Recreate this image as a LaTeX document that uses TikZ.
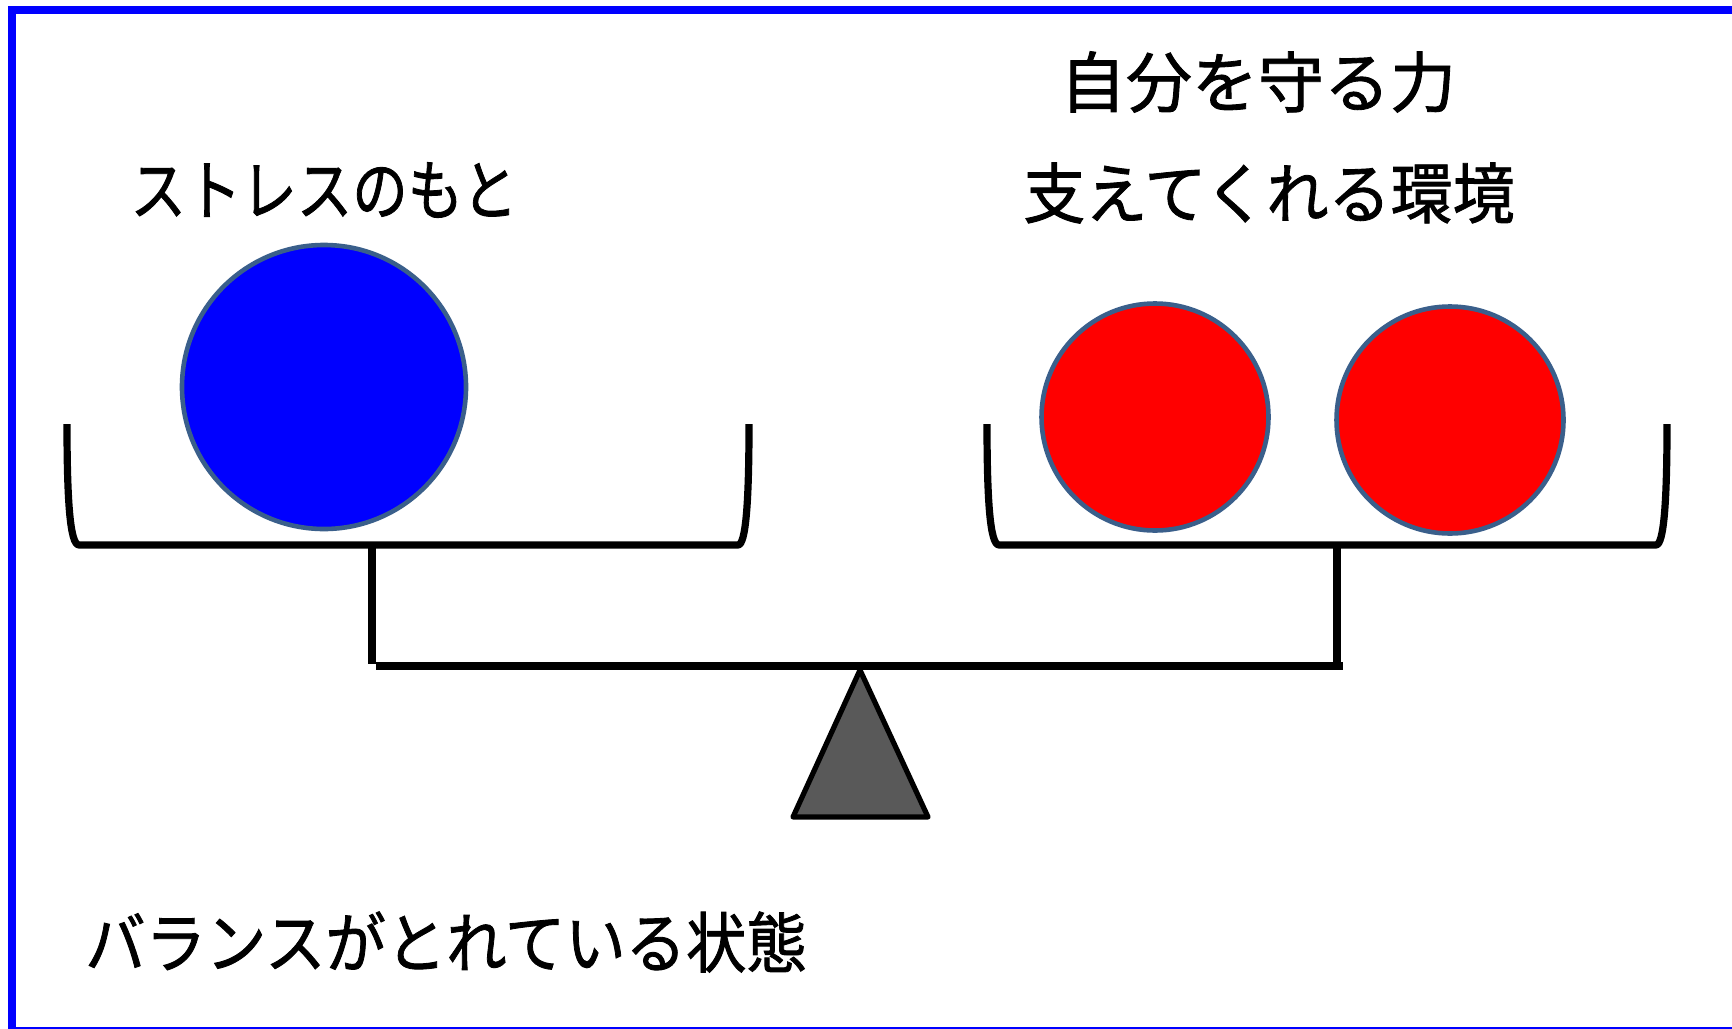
\documentclass[tikz,border=0pt]{standalone}
\usepackage{fontspec}
\usepackage{graphicx}
\setmainfont{Noto Sans CJK JP}[FakeBold=1.3]
\definecolor{frameblue}{HTML}{0000FF}
\definecolor{ballblue}{HTML}{0000FF}
\definecolor{ballred}{HTML}{FF0000}
\definecolor{ballrim}{HTML}{3A5F8B}
\definecolor{fulcrumgray}{HTML}{595959}
\tikzset{
  frame/.style={draw=frameblue, line width=4.2pt},
  panline/.style={draw=black, line width=3.6pt, line join=round},
  barline/.style={draw=black, line width=3.6pt},
  ball/.style={circle, draw=ballrim, line width=2.3pt, inner sep=0pt},
  label/.style={inner sep=0pt, font=\fontsize{33pt}{40pt}\selectfont},
  fulcrum/.style={draw=black, fill=fulcrumgray, line width=2.6pt, line join=round}
}
\begin{document}
\begin{tikzpicture}[x=0.5pt, y=-0.5pt]
\useasboundingbox (0,0) rectangle (1732,1028);
\fill[white] (0,0) rectangle (1732,1028);
\draw[frame] (12,10) rectangle (1750,1031);

% balls
\node[ball, fill=ballblue, minimum size=142pt] (stress) at (324,387) {};
\node[ball, fill=ballred, minimum size=113.5pt] (power) at (1155,417) {};
\node[ball, fill=ballred, minimum size=113.5pt] (support) at (1450,420) {};

% pans
\draw[panline] (67,424) .. controls (67,500) and (70,545) .. (79,545) -- (738,545) .. controls (746,545) and (749,500) .. (749,424);
\draw[panline] (987,424) .. controls (987,500) and (990,545) .. (999,545) -- (1656,545) .. controls (1664,545) and (1667,500) .. (1667,424);

% stems and beam
\coordinate (lstemtop) at (372,547);
\coordinate (lstembot) at (372,664);
\coordinate (rstemtop) at (1337,547);
\coordinate (rstembot) at (1337,669);
\coordinate (beamL) at (376,666);
\coordinate (beamR) at (1343,666);
\draw[barline] (lstemtop) -- (lstembot);
\draw[barline] (rstemtop) -- (rstembot);
\draw[barline] (beamL) -- (beamR);

% fulcrum
\draw[fulcrum] (860,670) -- (928,817) -- (793,817) -- cycle;

% labels
\node[label] (t1) at (324,190) {\scalebox{0.84}[1]{ストレスのもと}};
\node[label] (t2) at (1258,82) {自分を守る力};
\node[label] (t3) at (1269,193) {\scalebox{0.94}[1]{支えてくれる環境}};
\node[label] (t4) at (446,942) {\scalebox{0.915}[1]{バランスがとれている状態}};
\end{tikzpicture}
\end{document}
